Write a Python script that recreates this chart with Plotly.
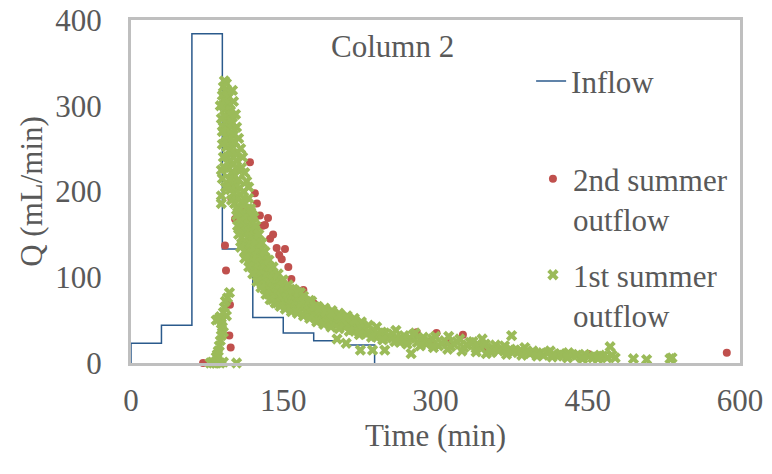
import plotly.graph_objects as go

# ---------------- data ----------------
inflow_t = [0, 0, 30, 60, 90, 120, 150, 180, 210, 240]
inflow_q = [0, 23, 44, 384, 133, 53, 35, 26, 21, 0]

red_t = [71, 92.6, 93.6, 97.5, 96.9, 98.2, 95.9, 99, 102.5, 117.2, 122, 124, 127, 130,
         132, 135, 137, 143.5, 148.5, 151.7, 155, 158, 163, 169.8, 168, 176, 180, 184.5,
         194, 209, 216, 227, 281.5, 294.6, 301, 312.6, 327, 350, 365, 395, 450.5, 587,
         106, 112, 140, 146]
red_q = [0, 137, 108, 68, 32, 18, 206, 191, 168, 234, 198, 186, 172, 160,
         161, 169, 145, 134, 121, 133, 112, 98, 80, 85, 73, 71.5, 69.6, 58,
         57, 50, 48, 44, 36, 25, 35, 24, 33, 16, 15, 12, 10.5, 12,
         180, 176, 150, 126]

green_t = [78, 80, 81, 83, 84, 86, 88, 91, 104,
           84, 85, 86, 87, 88, 89, 91, 90, 89, 86, 88, 84, 94, 91, 92, 93, 95, 97,
           92, 94, 91, 93, 95, 90, 92, 96, 94, 91, 97, 93, 95, 98, 92, 96, 99, 94, 97, 91,
           100, 95, 98, 93, 101, 96, 99, 94, 102, 97, 100, 95, 103, 98, 101, 96, 89, 104,
           99, 102, 97, 105, 100, 103, 98, 106, 89, 89, 101, 104, 107, 99, 102, 105, 108, 95,
           106, 109, 111, 104, 107, 110, 112, 105, 108, 111, 113, 115, 106, 109, 112, 114,
           116, 118, 110, 113, 115, 117, 119, 121, 112, 114, 116, 118, 120, 122, 117, 119,
           121, 123, 125, 120, 122, 124, 126, 128, 123, 125, 127, 129, 131,
           126, 128, 130, 132, 134, 129, 131, 133, 135, 137, 132, 134, 136, 138, 140, 136,
           138, 140, 142, 144, 139, 141, 143, 145, 147, 149, 144, 146, 148, 150, 152, 148,
           151, 153, 155, 157, 154, 156, 158, 160, 162, 159, 161, 163, 165, 167, 164, 166,
           168, 170,
           172, 174, 176, 178, 175, 178, 181, 184, 182, 185, 188, 191, 189, 192, 195, 198,
           196, 199, 202, 205, 203, 204, 207, 210, 213, 212, 211, 214, 217, 220, 218, 221,
           224, 227, 226, 225, 228, 231, 234, 232, 235, 238, 239, 242, 241, 244, 247, 250,
           250, 252, 255, 258, 261,
           263, 266, 265, 269, 272, 276, 275, 278, 280, 282, 285, 288, 291, 294, 297, 300,
           303, 306, 309, 313, 315, 318, 321, 324, 328, 331, 334, 337, 340, 343, 346, 349,
           350, 353, 356, 359, 362, 365, 368, 371, 375, 374, 378, 381, 384, 388, 390, 393,
           396, 400, 403, 406, 410, 413, 416, 420, 423, 426, 430, 431, 435, 439, 443, 447,
           451, 455, 459, 462, 465, 469, 472, 474, 477, 495, 508, 531, 533,
           # band edges
           88, 89, 90, 90, 91, 92, 90, 93,
           100, 101, 103, 104, 106, 108, 110, 109, 112, 114, 116, 116, 118, 120, 123, 126,
           129, 132, 136, 140, 145, 150, 155, 160, 165, 170, 176, 181, 186, 192, 198, 205,
           212, 220,
           108, 112, 116, 120, 124, 128, 133, 137, 142, 147, 152, 158, 164, 170, 176, 183,
           190, 197, 205, 215, 225, 237, 248, 260, 272, 285, 298, 312, 326, 340, 355, 370,
           385, 400, 415, 430, 445, 460]
green_q = [0, 1, 0, 1, 0, 1, 0, 1, 0,
           7, 10, 14, 20, 26, 32, 36, 42, 46, 51, 54, 50, 55, 59, 65, 72, 76, 82,
           329, 326, 322, 318, 316, 312, 308, 310, 304, 300, 302, 296, 292, 294, 288, 286, 289, 282, 278, 275,
           280, 271, 268, 264, 266, 260, 256, 252, 258, 248, 245, 240, 244, 236, 232, 228, 225, 236,
           222, 218, 214, 226, 210, 206, 202, 214, 195, 186, 198, 194, 204, 190, 186, 182, 196, 205,
           178, 188, 200, 172, 168, 176, 186, 160, 158, 164, 172, 180, 150, 146, 152, 160,
           168, 176, 138, 140, 146, 154, 162, 170, 130, 126, 134, 140, 148, 156, 120, 128,
           134, 142, 150, 112, 118, 124, 132, 140, 106, 110, 116, 124, 130,
           98, 102, 108, 114, 120, 92, 96, 102, 106, 112, 86, 90, 94, 98, 104, 80,
           84, 88, 92, 98, 74, 78, 82, 86, 92, 96, 70, 74, 78, 82, 88, 68,
           72, 76, 80, 86, 66, 70, 74, 78, 84, 64, 68, 72, 76, 82, 62, 66,
           70, 74,
           60, 64, 68, 72, 56, 58, 62, 66, 54, 56, 60, 64, 50, 53, 57, 61,
           48, 50, 54, 58, 28, 46, 48, 51, 55, 23, 42, 44, 47, 52, 39, 41,
           44, 48, 15, 36, 38, 40, 44, 34, 36, 15, 38, 42, 31, 33, 36, 35,
           15, 29, 31, 34, 38,
           27, 29, 24, 32, 26, 11, 29, 33, 35, 24, 27, 30, 22, 25, 28, 31,
           20, 23, 26, 31, 19, 22, 25, 28, 18, 21, 24, 25, 17, 20, 28, 22,
           11, 15, 18, 21, 14, 17, 20, 13, 32, 16, 15, 12, 15, 18, 13, 11,
           14, 12, 11, 9, 12, 14, 10, 8, 11, 9, 7, 12, 10, 9, 7, 10,
           8, 6, 7, 9, 8, 6, 19, 9, 6, 5, 4, 5, 6,
           # band edges
           300, 285, 270, 255, 240, 228, 215, 205,
           318, 305, 290, 275, 262, 250, 240, 228, 222, 212, 205, 192, 180, 172, 160, 150,
           140, 130, 120, 112, 104, 97, 91, 86, 82, 78, 73, 66, 63, 60, 58, 56,
           53, 50,
           135, 122, 112, 104, 95, 88, 80, 74, 70, 66, 63, 60, 58, 55, 52, 48,
           45, 42, 40, 37, 33, 30, 27, 25, 22, 20, 18, 16, 14, 13, 12, 10,
           9, 8, 7, 6, 5, 5]

x_ticks = [0, 150, 300, 450, 600]
y_ticks = [0, 100, 200, 300, 400]

FONT = "Liberation Serif"
TXT = "#595959"
GRID = "#BFBFBF"
FS = 31

fig = go.Figure()
fig.add_trace(go.Scatter(x=inflow_t, y=inflow_q, mode="lines", line_shape="hv",
                         line=dict(color="#2B5A8C", width=1.5), name="Inflow",
                         legend="legend", showlegend=True, cliponaxis=False))
fig.add_trace(go.Scatter(x=red_t, y=red_q, mode="markers", name="2nd summer<br>outflow",
                         marker=dict(symbol="circle", size=8, color="#C0504D"),
                         legend="legend2", showlegend=True, cliponaxis=False))
fig.add_trace(go.Scatter(x=green_t, y=green_q, mode="markers", name="1st summer<br>outflow",
                         marker=dict(symbol="x", size=10, color="#9BBB59", line=dict(width=0)),
                         legend="legend3", showlegend=True, cliponaxis=False))

axis_common = dict(showline=True, linecolor=GRID, linewidth=3, mirror=True,
                   showgrid=False, zeroline=False, ticks="", automargin=False,
                   tickfont=dict(family=FONT, size=FS, color=TXT))

leg_common = dict(xanchor="left", yanchor="top", bgcolor="rgba(0,0,0,0)",
                  valign="top", font=dict(family=FONT, size=FS, color=TXT))

fig.update_layout(
    width=772, height=474,
    margin=dict(l=131, r=32, t=20, b=111, autoexpand=False),
    plot_bgcolor="white", paper_bgcolor="white",
    font=dict(family=FONT, color=TXT, size=FS),
    xaxis=dict(range=[0, 600], tickvals=x_ticks, ticklabelstandoff=8,
               title=dict(text="Time (min)", font=dict(family=FONT, size=FS, color=TXT), standoff=8),
               **axis_common),
    yaxis=dict(range=[0, 400], tickvals=y_ticks, ticklabelstandoff=20,
               title=dict(text="Q (mL/min)", font=dict(family=FONT, size=FS, color=TXT), standoff=4),
               **axis_common),
    legend=dict(x=0.657, y=0.90, **leg_common),
    legend2=dict(x=0.66, y=0.615, **leg_common),
    legend3=dict(x=0.66, y=0.335, **leg_common),
    annotations=[dict(text="Column 2", x=0.43, y=0.924, xref="paper", yref="paper",
                      xanchor="center", yanchor="middle",
                      showarrow=False, font=dict(family=FONT, size=FS, color=TXT))],
)

fig.write_html("out.html")
